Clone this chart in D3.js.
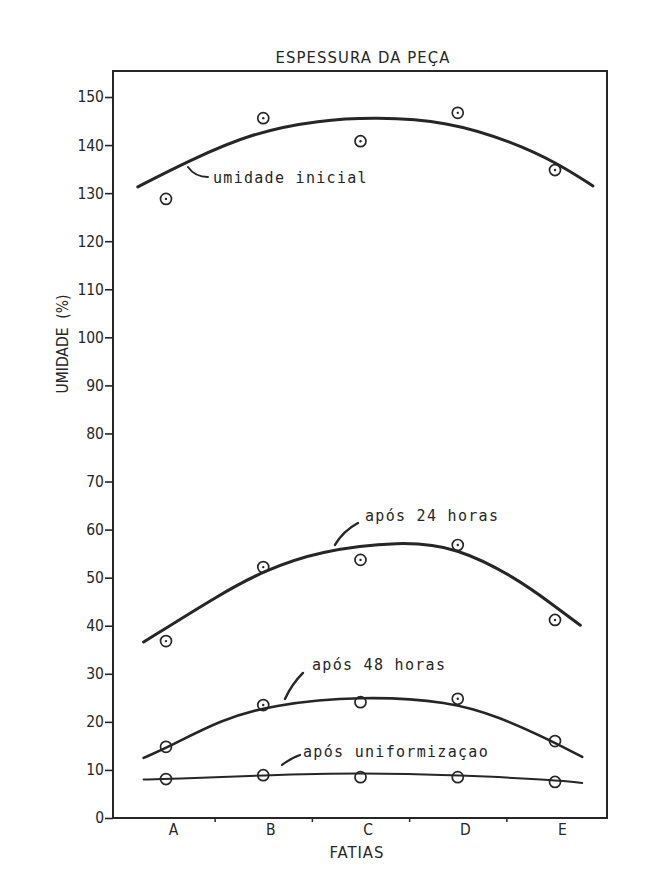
<!DOCTYPE html>
<html>
<head>
<meta charset="utf-8">
<script src="https://cdn.jsdelivr.net/npm/d3@7"></script>
<style>
  html, body { margin: 0; padding: 0; background: #ffffff; }
  svg { display: block; }
  .cond { font-family: "DejaVu Sans Condensed", "DejaVu Sans", sans-serif; }
  .mono { font-family: "DejaVu Sans Mono", "Liberation Mono", monospace; }
</style>
</head>
<body>
<svg id="chart" width="651" height="881"></svg>
<script>
// ---------- data ----------
const categories = ["A", "B", "C", "D", "E"];
const yTicks = [0, 10, 20, 30, 40, 50, 60, 70, 80, 90, 100, 110, 120, 130, 140, 150];

// measured points (%), per slice A..E
const umidadeInicial = [128.8, 145.6, 140.8, 146.7, 134.8];
const apos24Horas   = [36.8, 52.2, 53.7, 56.8, 41.2];
const apos48Horas   = [14.8, 23.5, 24.1, 24.8, 16.0];
const aposUniform   = [8.1, 8.9, 8.5, 8.5, 7.5];

// hand-drawn fitted curves: [slice index, value]
const curveInicial = [[-0.29,131.3],[0.22,136.6],[0.89,142.6],[1.58,145.2],[2.15,145.8],[2.89,145.0],[3.57,140.6],[4.02,136.3],[4.39,131.5]];
const curve24      = [[-0.23,36.6],[0.56,46.6],[1.0,51.4],[1.58,55.6],[2.41,57.6],[2.99,56.4],[3.61,49.8],[3.95,44.8],[4.26,40.1]];
const curve48      = [[-0.23,12.5],[0.04,14.9],[0.56,20.4],[1.1,23.6],[2.0,25.4],[2.92,24.3],[3.43,21.0],[3.95,16.2],[4.28,12.7]];
const curveUnif    = [[-0.23,8.0],[0.04,8.1],[1.0,8.9],[2.0,9.4],[3.02,8.9],[4.02,7.9],[4.28,7.3]];

// curve labels: text and anchor [slice index, value]
const labelTexts   = ["umidade inicial", "após 24 horas", "após 48 horas", "após uniformizaçao"];
const labelAnchors = [[0.483, 132.1], [2.046, 61.8], [1.501, 30.8], [1.409, 12.7]];

// ---------- layout ----------
const ink = "#262626";
const svg = d3.select("#chart");
const plot = { left: 113, right: 607, top: 71, bottom: 818 };

const x = d3.scaleLinear().domain([0, categories.length - 1]).range([166, 555]);
const y = d3.scaleLinear().domain([0, 150]).range([818, 97]);

// frame
svg.append("rect")
  .attr("x", plot.left).attr("y", plot.top)
  .attr("width", plot.right - plot.left).attr("height", plot.bottom - plot.top)
  .attr("fill", "none").attr("stroke", ink).attr("stroke-width", 2);

// y axis
const yAxis = d3.axisLeft(y).tickValues(yTicks).tickSize(8).tickPadding(1).tickFormat(d3.format("d"));
const gy = svg.append("g").attr("transform", `translate(${plot.left},0)`).call(yAxis);
gy.select(".domain").remove();
gy.selectAll("line").attr("stroke", ink).attr("stroke-width", 1.6);
gy.selectAll("text").attr("class", "cond").attr("font-size", 15.5).attr("fill", ink);

// x axis labels
const xAxis = d3.axisBottom(x).tickValues(d3.range(categories.length)).tickSize(0).tickPadding(6)
  .tickFormat(i => categories[i]);
const gx = svg.append("g").attr("transform", `translate(0,${plot.bottom})`).call(xAxis);
gx.select(".domain").remove();
gx.selectAll("text").attr("class", "cond").attr("font-size", 15.5).attr("fill", ink).attr("dx", 7);

// x minor ticks between slices
const gxm = svg.append("g").attr("transform", `translate(0,${plot.bottom})`)
  .call(d3.axisBottom(x).tickValues(d3.range(categories.length - 1).map(i => i + 0.5)).tickSize(4).tickFormat(""));
gxm.select(".domain").remove();
gxm.selectAll("line").attr("stroke", ink).attr("stroke-width", 1.5);

// titles
svg.append("text").attr("class", "cond")
  .attr("x", 363).attr("y", 63).attr("text-anchor", "middle")
  .attr("font-size", 16.5).attr("letter-spacing", 1.1).attr("fill", ink)
  .text("ESPESSURA DA PEÇA");

svg.append("text").attr("class", "cond")
  .attr("x", 357).attr("y", 858).attr("text-anchor", "middle")
  .attr("font-size", 16.5).attr("letter-spacing", 1).attr("fill", ink)
  .text("FATIAS");

svg.append("text").attr("class", "cond")
  .attr("transform", "translate(68,344) rotate(-90)")
  .attr("text-anchor", "middle").attr("font-size", 15.5).attr("fill", ink)
  .attr("xml:space", "preserve")
  .text("UMIDADE  (%)");

// curves
const line = d3.line().x(d => x(d[0])).y(d => y(d[1])).curve(d3.curveBasis);
const curves = [
  { pts: curveInicial, w: 3 },
  { pts: curve24, w: 3 },
  { pts: curve48, w: 2.6 },
  { pts: curveUnif, w: 2 }
];
svg.append("g").selectAll("path").data(curves).join("path")
  .attr("d", d => line(d.pts))
  .attr("fill", "none").attr("stroke", ink)
  .attr("stroke-width", d => d.w).attr("stroke-linecap", "round");

// points
const series = [
  { vals: umidadeInicial, dot: [1,1,1,1,1] },
  { vals: apos24Horas, dot: [1,1,1,1,1] },
  { vals: apos48Horas, dot: [0,1,0,1,0] },
  { vals: aposUniform, dot: [0,0,0,0,0] }
];
series.forEach(s => {
  const g = svg.append("g");
  g.selectAll("circle.m").data(s.vals).join("circle").attr("class", "m")
    .attr("cx", (d, i) => x(i)).attr("cy", d => y(d)).attr("r", 5.5)
    .attr("fill", "none").attr("stroke", ink).attr("stroke-width", 1.7);
  g.selectAll("circle.c").data(s.vals.map((v, i) => ({ v, i })).filter(d => s.dot[d.i])).join("circle").attr("class", "c")
    .attr("cx", d => x(d.i)).attr("cy", d => y(d.v)).attr("r", 1.2).attr("fill", ink);
});

// curve labels
const gl = svg.append("g");
labelTexts.forEach((t, i) => {
  gl.append("text").attr("class", "mono")
    .attr("x", x(labelAnchors[i][0])).attr("y", y(labelAnchors[i][1]))
    .attr("font-size", 15).attr("letter-spacing", 1.3).attr("fill", ink)
    .text(t);
});

// leader strokes (offsets relative to label anchors)
const leaders = [
  { d: "M-25,-16 Q-18,-6 -5,-6", w: 2 },
  { d: "M-30,24 Q-22,10 -7,2", w: 2.4 },
  { d: "M-27,29 Q-20,14 -9,3", w: 2.4 },
  { d: "M-21,8 Q-12,1 -3,-2", w: 2.2 }
];
leaders.forEach((l, i) => {
  gl.append("path")
    .attr("transform", `translate(${x(labelAnchors[i][0])},${y(labelAnchors[i][1])})`)
    .attr("d", l.d).attr("fill", "none").attr("stroke", ink)
    .attr("stroke-width", l.w).attr("stroke-linecap", "round");
});
</script>
</body>
</html>
